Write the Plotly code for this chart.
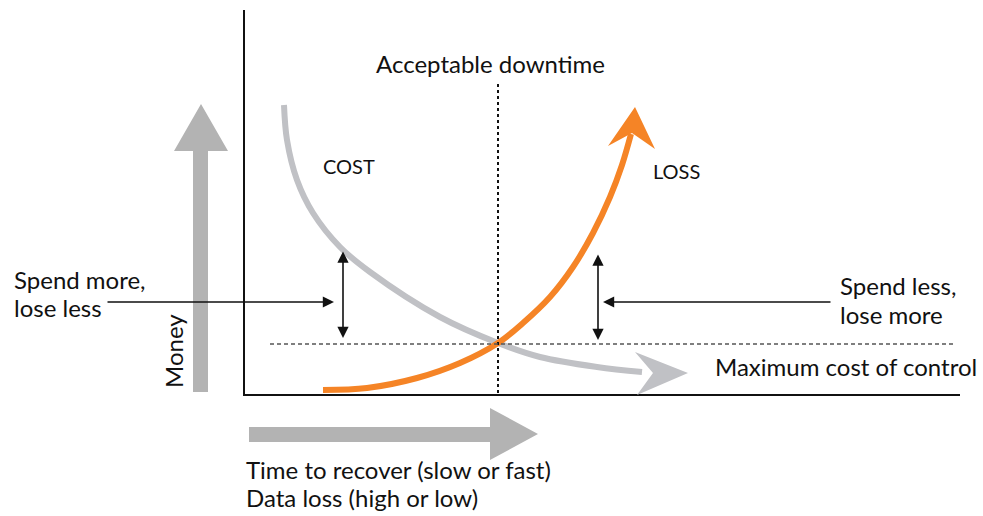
import plotly.graph_objects as go

# ---- data (diagram coordinates, pixel-like units, y downward) ----
cost_x = [284, 287, 297, 313, 340, 370, 440, 498, 540, 597, 642]
cost_y = [105, 140, 180, 213, 247, 272, 317, 343, 357, 367, 372]
loss_x = [323, 367, 417, 460, 498, 523, 550, 573, 593, 610, 622, 631]
loss_y = [390, 388, 378, 363, 343, 323, 297, 267, 233, 197, 165, 134]

labels = {
    "top": "Acceptable downtime",
    "cost": "COST",
    "loss": "LOSS",
    "left": ["Spend more,", "lose less"],
    "right": ["Spend less,", "lose more"],
    "max": "Maximum cost of control",
    "money": "Money",
    "xlab": ["Time to recover (slow or fast)", "Data loss (high or low)"],
}

W, H = 983, 516
FONT = "Lato"
GRAY = "#b3b3b3"
COSTC = "#c0c1c5"
ORANGE = "#f58426"
INK = "#111111"

fig = go.Figure()

# curves
fig.add_trace(go.Scatter(x=cost_x, y=cost_y, mode="lines",
                         line=dict(color=COSTC, width=6, shape="spline"), hoverinfo="skip"))
fig.add_trace(go.Scatter(x=loss_x, y=loss_y, mode="lines",
                         line=dict(color=ORANGE, width=6, shape="spline"), hoverinfo="skip"))

shapes = []
# axes
shapes.append(dict(type="line", x0=244, y0=10, x1=244, y1=395, line=dict(color=INK, width=2)))
shapes.append(dict(type="line", x0=243, y0=395, x1=960, y1=395, line=dict(color=INK, width=2)))
# acceptable downtime dotted line
shapes.append(dict(type="line", x0=498, y0=84, x1=498, y1=395, line=dict(color=INK, width=2, dash="3px,3px")))
# max cost dashed line
shapes.append(dict(type="line", x0=270, y0=344, x1=956, y1=344, line=dict(color="#555555", width=1.3, dash="4px,3px")))
# Money arrow
shapes.append(dict(type="path", path="M 193 392 L 193 151 L 174 151 L 201 104 L 228 151 L 208 151 L 208 392 Z",
                   fillcolor=GRAY, line=dict(width=0)))
# horizontal arrow
shapes.append(dict(type="path", path="M 249 427 L 490 427 L 490 408 L 538 434 L 490 460 L 490 442 L 249 442 Z",
                   fillcolor=GRAY, line=dict(width=0)))
# cost arrowhead
shapes.append(dict(type="path", path="M 688 373 L 635 352 L 653 373 L 637 395 Z",
                   fillcolor=COSTC, line=dict(width=0)))
# loss arrowhead
shapes.append(dict(type="path", path="M 635 107 L 608 146 L 632 133 L 655 149 Z",
                   fillcolor=ORANGE, line=dict(width=0)))
fig.update_layout(shapes=shapes)

ann = []
def txt(x, y, t, size=24, xanchor="left", yanchor="middle", angle=0):
    ann.append(dict(x=x, y=y, xref="x", yref="y", text=t, showarrow=False, textangle=angle,
                    xanchor=xanchor, yanchor=yanchor,
                    font=dict(family=FONT, size=size, color=INK)))

txt(490, 63, labels["top"], xanchor="center")
txt(321, 166, labels["cost"], size=20)
txt(651, 171, labels["loss"], size=20)
txt(12, 279, labels["left"][0])
txt(12, 307, labels["left"][1])
txt(838, 285, labels["right"][0])
txt(838, 314, labels["right"][1])
txt(713, 366, labels["max"])
txt(173, 351, labels["money"], angle=-90, xanchor="center")
txt(244, 469, labels["xlab"][0])
txt(244, 497, labels["xlab"][1])

def arrow(x0, y0, x1, y1, both=False):
    ann.append(dict(x=x1, y=y1, ax=x0, ay=y0, xref="x", yref="y", axref="x", ayref="y",
                    text="", showarrow=True, arrowhead=2, arrowsize=1.4, arrowwidth=1.6,
                    arrowcolor=INK, arrowside="end+start" if both else "end",
                    startarrowhead=2, startarrowsize=1.4))

arrow(106, 302, 334, 302)
arrow(832, 302, 603, 302)
arrow(343, 250, 343, 338, both=True)
arrow(598, 253, 598, 340, both=True)
fig.update_layout(annotations=ann)

fig.update_layout(
    width=W, height=H, margin=dict(l=0, r=0, t=0, b=0),
    paper_bgcolor="white", plot_bgcolor="white", showlegend=False,
    xaxis=dict(range=[0, W], visible=False, fixedrange=True),
    yaxis=dict(range=[H, 0], visible=False, fixedrange=True),
)
fig.write_html("out.html", config={"displayModeBar": False},
               post_script="document.body.style.margin='0';document.body.style.overflow='hidden';")
